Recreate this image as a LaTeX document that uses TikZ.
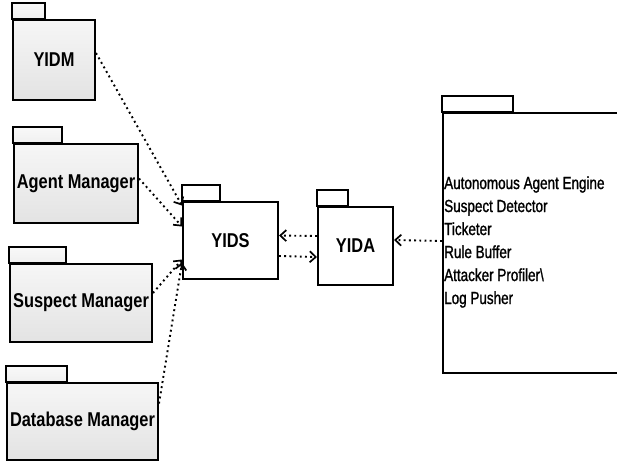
\documentclass[tikz,border=0pt]{standalone}
\usepackage{fontspec}
\usetikzlibrary{arrows.meta}
\newfontfamily\pkgfont[FakeStretch=0.82]{Liberation Sans}
\newfontfamily\listfont[FakeStretch=0.77, FakeBold=1.2]{Liberation Sans}

\tikzset{
  pkgbox/.style={draw=black, line width=2pt, rectangle, inner sep=0pt,
    font=\pkgfont\bfseries\fontsize{20}{22}\selectfont},
  shaded/.style={top color=gray!7, bottom color=gray!22},
  plain/.style={fill=white},
  tabbox/.style={draw=black, line width=2pt},
  dep/.style={line width=1.9pt, dash pattern=on 1.9pt off 3.3pt,
    -{Straight Barb[length=6pt,width=11pt,line width=1.7pt]}},
}

\begin{document}
\begin{tikzpicture}[x=1pt, y=-1pt]
\useasboundingbox (0,0) rectangle (617,461);

% left-hand packages
\node[pkgbox, shaded, minimum width=82pt, minimum height=80pt] (yidm) at (54,60) {YIDM};
\draw[tabbox, top color=gray!5, bottom color=gray!12] (yidm.north west) rectangle ++(33pt,16pt);

\node[pkgbox, shaded, minimum width=124pt, minimum height=79pt] (agent) at (76,183.5) {Agent Manager};
\draw[tabbox, top color=gray!5, bottom color=gray!12] (agent.north west) rectangle ++(49pt,16pt);

\node[pkgbox, shaded, minimum width=142pt, minimum height=78pt] (suspect) at (81,303) {Suspect Manager};
\draw[tabbox, top color=gray!5, bottom color=gray!12] (suspect.north west) rectangle ++(57pt,16pt);

\node[pkgbox, shaded, minimum width=151pt, minimum height=77pt] (dbm) at (82.5,421.5) {Database Manager};
\draw[tabbox, top color=gray!5, bottom color=gray!12] (dbm.north west) rectangle ++(61pt,16pt);

% central packages
\node[pkgbox, plain, minimum width=95pt, minimum height=77pt] (yids) at (230.5,240.5) {YIDS};
\draw[tabbox, fill=white] (yids.north west) rectangle ++(38pt,16pt);

\node[pkgbox, plain, minimum width=75pt, minimum height=78pt] (yida) at (355.5,246) {YIDA};
\draw[tabbox, fill=white] (yida.north west) rectangle ++(31pt,16pt);

% agent package with its components
\node[pkgbox, plain, anchor=north west, minimum width=185pt, minimum height=260pt] (agentpkg) at (442,112) {};
\draw[tabbox, fill=white] (agentpkg.north west) rectangle ++(71pt,16pt);
\node[anchor=west, align=left, inner sep=0pt,
      font=\listfont\fontsize{17.5}{23}\selectfont] (parts) at (444,242)
  {Autonomous Agent Engine\\ Suspect Detector\\Ticketer\\Rule Buffer\\Attacker Profiler\textbackslash\\Log Pusher};

% dependencies
\draw[dep] ([yshift=7pt]yidm.east) -- ([yshift=35pt]yids.west);
\draw[dep] ([yshift=5pt]agent.east) -- ([yshift=14pt]yids.west);
\draw[dep] ([yshift=10pt]suspect.east) -- ([yshift=-19pt]yids.west);
\draw[dep] ([yshift=18pt]dbm.east) -- ([yshift=-22pt]yids.west);

\draw[dep] ([yshift=10pt]yida.west) -- ([yshift=5pt]yids.east);
\draw[dep] ([yshift=-15.5pt]yids.east) -- ([yshift=-11pt]yida.west);
\draw[dep] ([yshift=2pt]agentpkg.west) -- ([yshift=6pt]yida.east);
\end{tikzpicture}
\end{document}
